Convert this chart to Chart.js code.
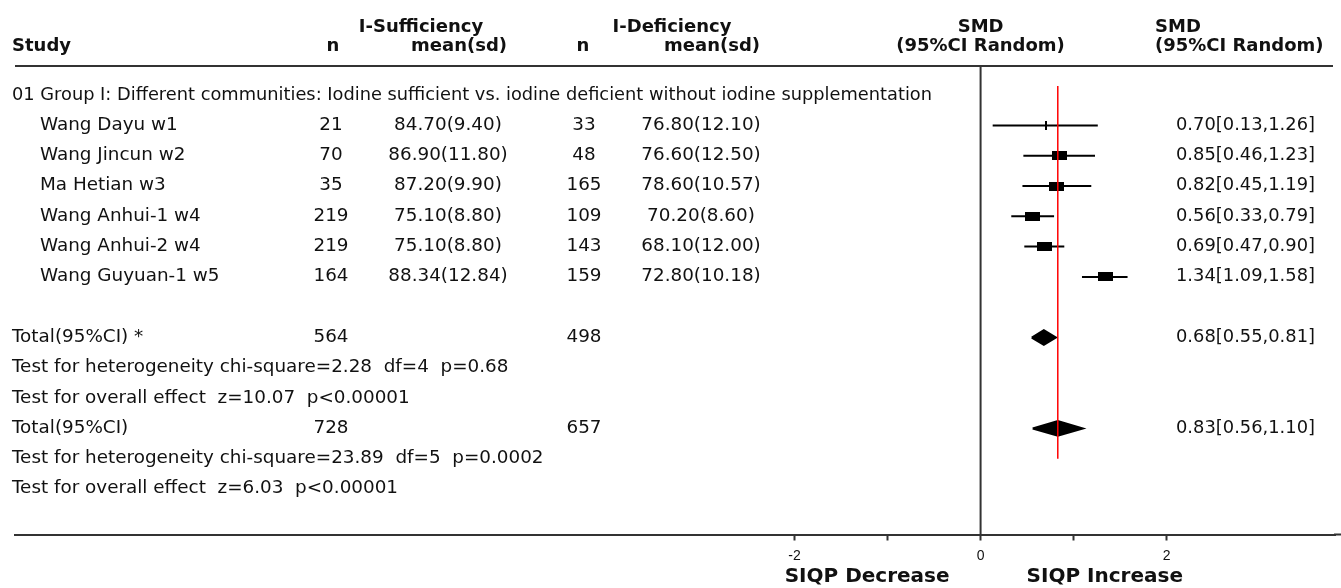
<!DOCTYPE html>
<html>
<head>
<meta charset="utf-8">
<title>Forest plot - SIQP</title>
<script src="https://cdn.jsdelivr.net/npm/chart.js@4.4.0/dist/chart.umd.min.js"></script>
<style>
  html, body { margin: 0; padding: 0; background: #fff; }
  #wrap { width: 1341px; height: 588px; position: relative; }
</style>
</head>
<body>
<div id="wrap"><canvas id="forest"></canvas></div>
<script>
// ================= DATA =================
const groupTitle = "01 Group I: Different communities: Iodine sufficient vs. iodine deficient without iodine supplementation";
const studies = ["Wang Dayu w1", "Wang Jincun w2", "Ma Hetian w3", "Wang Anhui-1 w4", "Wang Anhui-2 w4", "Wang Guyuan-1 w5"];
const nSuff = [21, 70, 35, 219, 219, 164];
const meanSdSuff = ["84.70(9.40)", "86.90(11.80)", "87.20(9.90)", "75.10(8.80)", "75.10(8.80)", "88.34(12.84)"];
const nDef = [33, 48, 165, 109, 143, 159];
const meanSdDef = ["76.80(12.10)", "76.60(12.50)", "78.60(10.57)", "70.20(8.60)", "68.10(12.00)", "72.80(10.18)"];
const smd = [0.70, 0.85, 0.82, 0.56, 0.69, 1.34];
const ciLow = [0.13, 0.46, 0.45, 0.33, 0.47, 1.09];
const ciHigh = [1.26, 1.23, 1.19, 0.79, 0.90, 1.58];

const totalLabels = ["Total(95%CI) *", "Total(95%CI)"];
const totalNSuff = [564, 728];
const totalNDef = [498, 657];
const totalSmd = [0.68, 0.83];
const totalLow = [0.55, 0.56];
const totalHigh = [0.81, 1.10];
const hetTexts = ["Test for heterogeneity chi-square=2.28  df=4  p=0.68", "Test for heterogeneity chi-square=23.89  df=5  p=0.0002"];
const effectTexts = ["Test for overall effect  z=10.07  p<0.00001", "Test for overall effect  z=6.03  p<0.00001"];

const xTicks = [-2, -1, 0, 1, 2];
const xTickLabels = ["-2", "", "0", "", "2"];
const leftLabel = "SIQP Decrease";
const rightLabel = "SIQP Increase";

// ================= LAYOUT (row numbers) =================
const studyRows = studies.map((s, i) => i + 1);
const totalRows = [8, 11];
const hetRows = [9, 12];
const effectRows = [10, 13];

function fmt(v) { return v.toFixed(2); }

// marker images
function makeBox(w, h) {
  const c = document.createElement("canvas");
  c.width = w; c.height = h;
  const g = c.getContext("2d");
  g.fillStyle = "#000";
  g.fillRect(0, 0, w, h);
  return c;
}
const bigBox = makeBox(15, 9);
const tinyTick = makeBox(2, 9);

// ================= DATASETS =================
const datasets = [];

// red line at overall effect
datasets.push({
  type: "line",
  data: [{ x: totalSmd[1], y: -0.3 }, { x: totalSmd[1], y: 12.0 }],
  borderColor: "#ff0000", borderWidth: 1.5, pointRadius: 0, order: 0
});

// diamonds for totals
totalSmd.forEach((m, i) => {
  const r = totalRows[i];
  const h = 0.24;
  datasets.push({
    type: "line",
    data: [
      { x: totalLow[i], y: r }, { x: m, y: r - h },
      { x: totalHigh[i], y: r }, { x: m, y: r + h },
      { x: totalLow[i], y: r }
    ],
    borderColor: "#000", backgroundColor: "#000", borderWidth: 2,
    fill: "shape", tension: 0, pointRadius: 0, order: 1
  });
});

// study boxes
datasets.push({
  type: "scatter",
  data: smd.map((v, i) => ({ x: v, y: studyRows[i] })),
  pointStyle: studies.map((s, i) => (i === 0 ? tinyTick : bigBox)),
  pointRadius: 5,
  order: 2
});

// confidence intervals
studies.forEach((s, i) => {
  datasets.push({
    type: "line",
    data: [{ x: ciLow[i], y: studyRows[i] }, { x: ciHigh[i], y: studyRows[i] }],
    borderColor: "#000", borderWidth: 2, pointRadius: 0, order: 3
  });
});

// line of no effect
datasets.push({
  type: "line",
  data: [{ x: 0, y: -0.96 }, { x: 0, y: 14.5 }],
  borderColor: "#333", borderWidth: 2, pointRadius: 0, order: 4
});

// ================= TABLE TEXT =================
const tablePlugin = {
  id: "forestTable",
  afterDraw(chart) {
    const ctx = chart.ctx;
    const ys = chart.scales.y;
    const xs = chart.scales.x;
    const area = chart.chartArea;
    const top = area.top;
    const zeroPx = xs.getPixelForValue(0);

    // sx stretches body text a little, the original font is wider
    function put(text, x, y, align, sx, maxW) {
      ctx.save();
      ctx.translate(x, y);
      ctx.scale(sx || 1, 1);
      ctx.textAlign = align || "left";
      if (maxW) ctx.fillText(text, 0, 0, maxW / (sx || 1));
      else ctx.fillText(text, 0, 0);
      ctx.restore();
    }

    ctx.save();
    ctx.fillStyle = "#111";

    // header
    ctx.font = 'bold 18px "DejaVu Sans"';
    ctx.textBaseline = "alphabetic";
    put("I-Sufficiency", 421, top - 34, "center");
    put("I-Deficiency", 672, top - 34, "center");
    put("SMD", zeroPx, top - 34, "center");
    put("SMD", 1155, top - 34, "left");
    put("Study", 12, top - 15, "left");
    put("n", 333, top - 15, "center");
    put("mean(sd)", 507, top - 15, "right");
    put("n", 583, top - 15, "center");
    put("mean(sd)", 760, top - 15, "right");
    put("(95%CI Random)", zeroPx, top - 15, "center");
    put("(95%CI Random)", 1155, top - 15, "left");

    ctx.strokeStyle = "#333";
    ctx.lineWidth = 2;
    ctx.beginPath();
    ctx.moveTo(15, top);
    ctx.lineTo(1333, top);
    // bottom rule runs on to the page edge
    ctx.moveTo(area.right - 1, area.bottom);
    ctx.lineTo(1341, area.bottom);
    ctx.stroke();

    // body
    const S = 1.08;
    ctx.font = '17px "DejaVu Sans"';
    ctx.textBaseline = "middle";
    put(groupTitle, 12, ys.getPixelForValue(0), "left", S, 920);

    studies.forEach((s, i) => {
      const y = ys.getPixelForValue(studyRows[i]);
      put(s, 40, y, "left", S);
      put(String(nSuff[i]), 331, y, "center", S);
      put(meanSdSuff[i], 448, y, "center", S);
      put(String(nDef[i]), 584, y, "center", S);
      put(meanSdDef[i], 701, y, "center", S);
      put(fmt(smd[i]) + "[" + fmt(ciLow[i]) + "," + fmt(ciHigh[i]) + "]", 1176, y, "left", S, 139);
    });

    totalLabels.forEach((t, i) => {
      const y = ys.getPixelForValue(totalRows[i]);
      put(t, 12, y, "left", S);
      put(String(totalNSuff[i]), 331, y, "center", S);
      put(String(totalNDef[i]), 584, y, "center", S);
      put(fmt(totalSmd[i]) + "[" + fmt(totalLow[i]) + "," + fmt(totalHigh[i]) + "]", 1176, y, "left", S, 139);
      put(hetTexts[i], 12, ys.getPixelForValue(hetRows[i]), "left", S);
      put(effectTexts[i], 12, ys.getPixelForValue(effectRows[i]), "left", S);
    });

    // axis captions
    ctx.font = 'bold 20px "DejaVu Sans"';
    ctx.textBaseline = "alphabetic";
    put(leftLabel, zeroPx - 31, 582, "right");
    put(rightLabel, zeroPx + 46, 582, "left");

    ctx.restore();
  }
};

// ================= CHART =================
new Chart(document.getElementById("forest"), {
  type: "scatter",
  data: { datasets: datasets },
  options: {
    responsive: true,
    maintainAspectRatio: false,
    animation: false,
    layout: { padding: { top: 66, left: 15, right: 0, bottom: 0 } },
    plugins: {
      legend: { display: false },
      tooltip: { enabled: false }
    },
    scales: {
      x: {
        type: "linear",
        min: -10.38,
        max: 3.81,
        afterBuildTicks: scale => { scale.ticks = xTicks.map(v => ({ value: v })); },
        afterFit: scale => { scale.height = 53.5; },
        ticks: {
          autoSkip: false,
          maxRotation: 0,
          padding: 7,
          color: "#111",
          font: { family: "Liberation Sans", size: 14 },
          callback: (v, i) => xTickLabels[i]
        },
        grid: { drawOnChartArea: false, drawTicks: true, tickLength: 6, tickColor: "#333", tickWidth: 2 },
        border: { display: true, color: "#333", width: 2 }
      },
      y: {
        type: "linear",
        display: false,
        reverse: true,
        min: -0.96,
        max: 14.5
      }
    }
  },
  plugins: [tablePlugin]
});
</script>
</body>
</html>
